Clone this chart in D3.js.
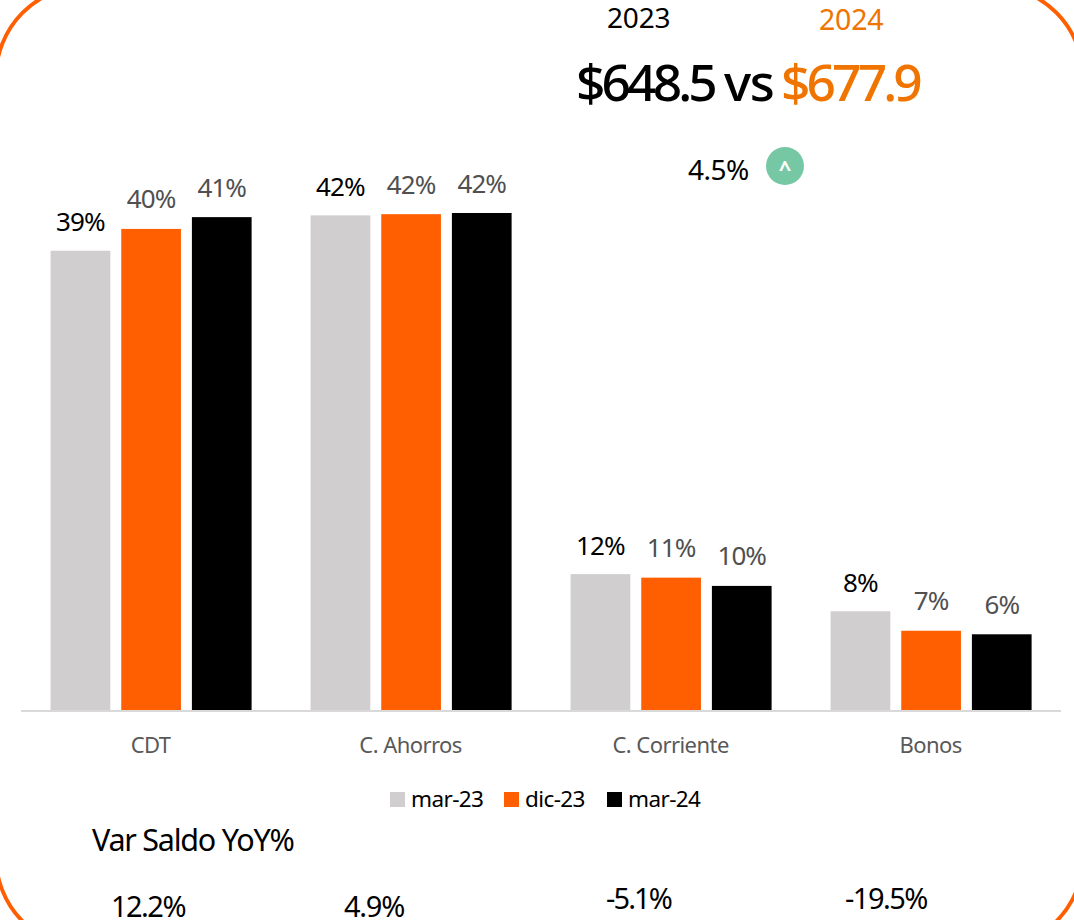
<!DOCTYPE html>
<html><head><meta charset="utf-8">
<script src="https://cdn.jsdelivr.net/npm/d3@7/dist/d3.min.js"></script>
<style>html,body{margin:0;padding:0;background:#fff}svg{display:block}text{font-family:"Noto Sans",sans-serif}</style>
</head><body><svg id="c" width="1074" height="920"></svg>
<script>
const categories=["CDT","C. Ahorros","C. Corriente","Bonos"];
const seriesNames=["mar-23","dic-23","mar-24"];
const seriesColors=["#D0CECE","#FF5F00","#000000"];
const mar23=[39.0,42.0,11.6,8.45];
const dic23=[40.85,42.1,11.3,6.8];
const mar24=[41.85,42.2,10.6,6.5];
const labelsMar23=["39%","42%","12%","8%"];
const labelsDic23=["40%","42%","11%","7%"];
const labelsMar24=["41%","42%","10%","6%"];
const varLabels=["12.2%","4.9%","-5.1%","-19.5%"];
const series=[mar23,dic23,mar24], labels=[labelsMar23,labelsDic23,labelsMar24];
const labelColors=["#000","#505050","#505050"];

const svg=d3.select("#c");
svg.append("rect").attr("x",-4).attr("y",-14).attr("width",1087).attr("height",962).attr("rx",91).attr("ry",91)
 .attr("fill","none").attr("stroke","#FF5F00").attr("stroke-width",3.8);

const x0=d3.scaleBand().domain(categories).range([20.6,1060.6]);
const x1=d3.scaleBand().domain(d3.range(3)).range([30,231]).paddingInner(0.155).paddingOuter(0);
const y=d3.scaleLinear().domain([0,42.2]).range([711,213]);
categories.forEach((c,i)=>{
  const gx=x0(c);
  series.forEach((s,k)=>{
    const bx=gx+x1(k), by=y(s[i]);
    svg.append("rect").attr("x",bx).attr("y",by).attr("width",x1.bandwidth()).attr("height",711-by).attr("fill",seriesColors[k]);
    svg.append("text").attr("x",bx+x1.bandwidth()/2).attr("y",by-(k===0?19.5:20.5)).attr("text-anchor","middle")
      .attr("font-size",26).attr("letter-spacing",-.9).attr("fill",labelColors[k]).text(labels[k][i]);
  });
  svg.append("text").attr("x",gx+x0.bandwidth()/2).attr("y",753).attr("text-anchor","middle").attr("font-size",22).attr("letter-spacing",-.55).attr("fill","#595959").text(c);
});
svg.append("line").attr("x1",21).attr("x2",1061).attr("y1",711).attr("y2",711).attr("stroke","#D9D9D9").attr("stroke-width",2);

const legendX=[390,504,607], legendTx=[411,525,628];
seriesNames.forEach((n,k)=>{
  svg.append("rect").attr("x",legendX[k]).attr("y",792).attr("width",15).attr("height",15).attr("fill",seriesColors[k]);
  svg.append("text").attr("x",legendTx[k]).attr("y",807).attr("font-size",22.5).attr("letter-spacing",-.6).attr("fill","#000").text(n);
});

const T2=(x,y,t,fs,fill,ls,anchor="start",w=400)=>svg.append("text").attr("x",x).attr("y",y).attr("font-size",fs).attr("fill",fill).attr("letter-spacing",ls).attr("font-weight",w).attr("text-anchor",anchor).text(t);
T2(607,28,"2023",28,"#000",-.2);
T2(819,30,"2024",28.5,"#F07400",-.2);
T2(576,101,"$648.5",51.5,"#000",-3.9,"start",500);
T2(724,101,"vs",51.5,"#000",-1.5,"start",500);
T2(781,101,"$677.9",51.5,"#F07400",-3.9,"start",500);
T2(688,180,"4.5%",28,"#000",-.5);
svg.append("circle").attr("cx",785).attr("cy",166).attr("r",19).attr("fill","#76C7A4");
T2(785,176,"^",22,"#fff",0,"middle",700);
T2(92,851,"Var Saldo YoY%",30.5,"#000",-1.25);
const vx=[148,374,638.5,886], vy=[917,917,909,909];
const vls=[-1.5,-1.2,-1.9,-1.5];
varLabels.forEach((t,i)=>T2(vx[i],vy[i],t,29,"#000",vls[i],"middle"));
</script></body></html>
